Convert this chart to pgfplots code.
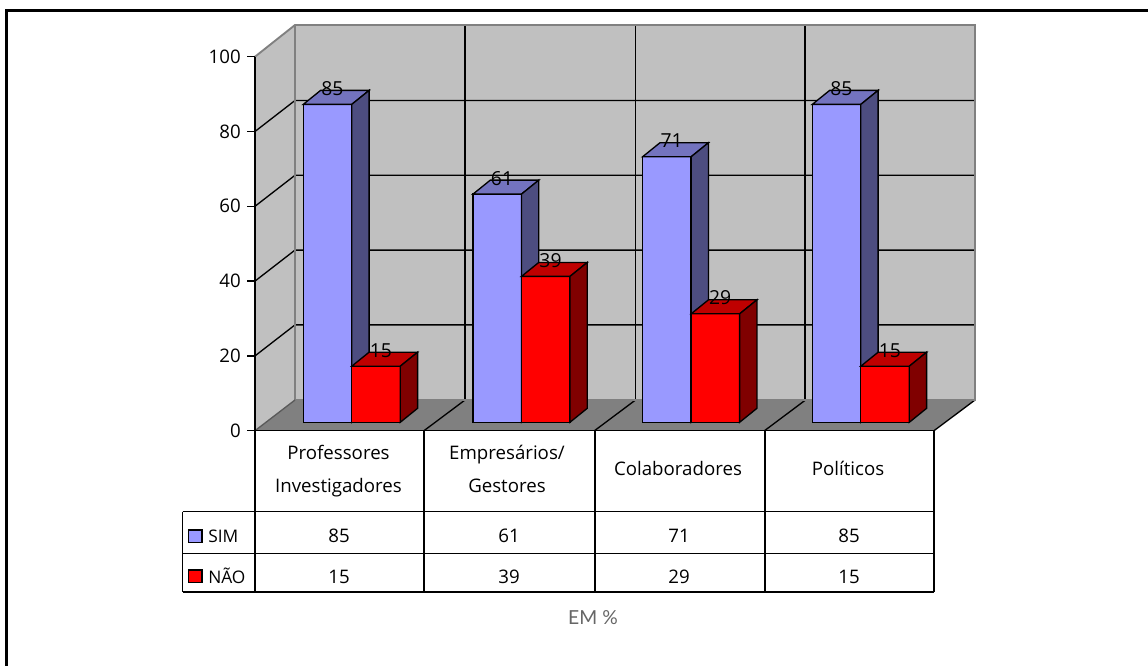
\documentclass[border=0pt]{standalone}
\usepackage{fontspec}
\usepackage{pgfplots}
\usepackage{pgfplotstable}
\pgfplotsset{compat=1.18}
\setmainfont{Open Sans}
\newfontfamily\captionfont{Lato}
\definecolor{simfront}{HTML}{9999FF}
\definecolor{simtop}{HTML}{7373BF}
\definecolor{simside}{HTML}{4D4D80}
\definecolor{naofront}{HTML}{FF0000}
\definecolor{naotop}{HTML}{BF0000}
\definecolor{naoside}{HTML}{800000}
\definecolor{wall}{HTML}{C0C0C0}
\definecolor{floorgray}{HTML}{808080}

% Survey shares per respondent group, in percent
\pgfplotstableread{
grupo sim nao
0 85 15
1 61 39
2 71 29
3 85 15
}\dados

% Depth of the bars and of the box, in axis units
\def\bardx{0.102}
\def\bardy{3.74}
\def\basey{2.25}
\def\barw{0.2857}

% #1 left edge, #2 value, #3 front, #4 top, #5 side
\newcommand{\solidbar}[5]{%
  \pgfmathsetmacro\xa{#1}%
  \pgfmathsetmacro\xb{#1+\barw}%
  \pgfmathsetmacro\xc{#1+\barw+\bardx}%
  \pgfmathsetmacro\xd{#1+\bardx}%
  \pgfmathsetmacro\ya{\basey}%
  \pgfmathsetmacro\yb{\basey+#2}%
  \pgfmathsetmacro\yc{\basey+#2+\bardy}%
  \pgfmathsetmacro\yd{\basey+\bardy}%
  \pgfmathsetmacro\xl{#1+0.171}%
  \pgfmathsetmacro\yl{\yc-1.3}%
  \edef\temp{%
    \noexpand\addplot[draw=black,line width=1pt,fill=#3] coordinates {(\xa,\ya)(\xb,\ya)(\xb,\yb)(\xa,\yb)} -- cycle;
    \noexpand\addplot[draw=black,line width=1pt,fill=#4] coordinates {(\xa,\yb)(\xb,\yb)(\xc,\yc)(\xd,\yc)} -- cycle;
    \noexpand\addplot[draw=black,line width=1pt,fill=#5] coordinates {(\xb,\ya)(\xc,\yd)(\xc,\yc)(\xb,\yb)} -- cycle;
    \noexpand\node[anchor=base,inner sep=0pt,font=\noexpand\fontsize{14.5pt}{18pt}\noexpand\selectfont] at (axis cs:\xl,\yl) {#2};
  }\temp
}

\begin{document}
\begin{tikzpicture}
\path[use as bounding box] (0pt,0pt) rectangle (861pt,499.5pt);

% Box behind the bars, in pixel-like units measured from the top left
\begin{scope}[x=0.75pt,y=-0.75pt,shift={(0pt,499.5pt)}]
  \draw[line width=2pt] (6.5,666) -- (6.5,10.5) -- (1148,10.5);
  \fill[wall] (255,430.7) -- (295,400) -- (295,25) -- (255,56.7) -- cycle;
  \fill[wall] (295,25) rectangle (975,400);
  \fill[floorgray] (255,430.7) -- (295,400) -- (975,400) -- (934,430.7) -- cycle;
  \foreach \y in {131.5,206.3,281.1,355.9} {
    \draw[line width=1pt] (255,\y) -- (295,\y-31) -- (975,\y-31);
  }
  \foreach \x in {465,635.5,805} {
    \draw[line width=1pt] (\x,25) -- (\x,400);
  }
  \foreach \x in {424,594.5,764.5,934} {
    \draw[line width=1pt] (\x,430.7) -- (\x+41,400);
  }
  \draw[floorgray,line width=1.4pt] (255,56.7) -- (295,25) -- (975,25) -- (975,400) -- (295,400) -- (295,25);
  \draw[floorgray!70!black,line width=1pt] (255,430.7) -- (295,400);
\end{scope}

\begin{axis}[
  at={(191.25pt,176.475pt)},
  anchor=south west,
  scale only axis,
  width=509.25pt,
  height=280.5pt,
  xmin=0, xmax=4,
  ymin=0, ymax=100,
  clip=false,
  axis y line=left,
  axis x line=bottom,
  axis line style={-,black,line width=1.1pt},
  xtick=\empty,
  ytick={0,20,40,60,80,100},
  tick align=outside,
  major tick length=6pt,
  tick style={black,line width=1pt},
  tick label style={font=\fontsize{14pt}{17pt}\selectfont},
  /pgf/number format/assume math mode=true,
  yticklabel style={inner xsep=1pt,xshift=-3.5pt},
]
\pgfplotsforeachungrouped \i in {0,1,2,3} {
  \pgfplotstablegetelem{\i}{sim}\of\dados \let\vsim\pgfplotsretval
  \pgfplotstablegetelem{\i}{nao}\of\dados \let\vnao\pgfplotsretval
  \pgfmathsetmacro\xs{\i*0.99956+0.2845}%
  \pgfmathsetmacro\xn{\xs+\barw}%
  \solidbar{\xs}{\vsim}{simfront}{simtop}{simside}
  \solidbar{\xn}{\vnao}{naofront}{naotop}{naoside}
}
\end{axis}

% Data table under the axis
\begin{scope}[x=0.75pt,y=-0.75pt,shift={(0pt,499.5pt)},
    every node/.style={anchor=base,inner sep=0pt,font=\fontsize{14pt}{17pt}\selectfont}]
  \draw[line width=1.1pt] (255,511.7) -- (934,511.7);
  \draw[line width=1.1pt] (182.7,511.7) -- (255,511.7);
  \draw[line width=1.1pt] (182.7,553.7) -- (934,553.7);
  \draw[line width=1.1pt] (182.7,592) -- (934,592);
  \draw[line width=1.1pt] (182.7,511.7) -- (182.7,592);
  \foreach \x in {255,424,595,765,934} {
    \draw[line width=1.1pt] (\x,430.7) -- (\x,592);
  }
  \node at (338.5,460) {Professores};
  \node at (338.5,492.3) {Investigadores};
  \node at (507,460) {Empresários/};
  \node at (507,492.3) {Gestores};
  \node at (678,475.7) {Colaboradores};
  \node at (848,475.7) {Políticos};
  \draw[line width=0.9pt,fill=simfront] (188.7,530) rectangle (202,542.3);
  \draw[line width=0.9pt,fill=naofront] (188.7,570) rectangle (202,582.7);
  \node[anchor=base west,font=\fontsize{13pt}{16pt}\selectfont] at (208,543) {SIM};
  \node[anchor=base west,font=\fontsize{13pt}{16pt}\selectfont] at (208,584) {NÃO};
  \node at (339,542.3) {85};
  \node at (509,542.3) {61};
  \node at (679,542.3) {71};
  \node at (849,542.3) {85};
  \node at (339,583.3) {15};
  \node at (509,583.3) {39};
  \node at (679,583.3) {29};
  \node at (849,583.3) {15};
  \node[text=black!60,font=\captionfont\fontsize{14.5pt}{17pt}\selectfont] at (593,625) {EM \%};
\end{scope}
\end{tikzpicture}
\end{document}
